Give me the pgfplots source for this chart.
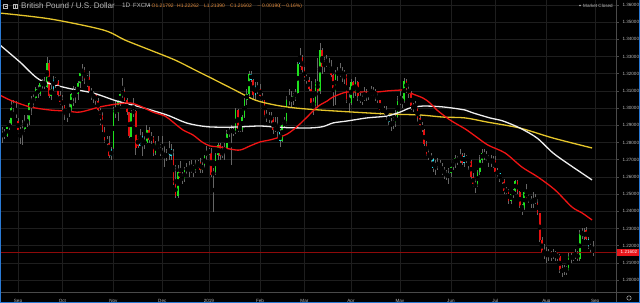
\documentclass[border=0pt]{standalone}
\usepackage{fontspec}
\setmainfont{Liberation Sans}
\usepackage{pgfplots}
\usepackage{pgfplotstable}
\pgfplotsset{compat=1.18}
\definecolor{gridc}{HTML}{1E1E1E}
\definecolor{sepc}{HTML}{4A4A4A}
\definecolor{labelc}{HTML}{B8B8B8}
\definecolor{cgreen}{HTML}{1EE01E}
\definecolor{cred}{HTML}{E41010}
\definecolor{ccyan}{HTML}{20DCEC}
\definecolor{wick}{HTML}{666666}
\definecolor{mared}{HTML}{F01414}
\definecolor{mawhite}{HTML}{EEEEEE}
\definecolor{mayellow}{HTML}{E5C52B}
\definecolor{priceline}{HTML}{8E0A0A}
\definecolor{tagred}{HTML}{E8161B}
\definecolor{orangec}{HTML}{E08A3C}
\definecolor{borderc}{HTML}{2A7AD5}
\pgfplotstableread{
i o h l c k
-8 1.2910 1.2930 1.2810 1.2835 1
-7 1.2835 1.2890 1.2800 1.2850 2
-6 1.2850 1.2880 1.2820 1.2840 2
-5 1.2840 1.2900 1.2830 1.2890 0
-4 1.2890 1.2930 1.2870 1.2910 0
-3 1.2910 1.3050 1.2900 1.3000 0
-2 1.3000 1.3045 1.2980 1.3030 0
-1 1.2985 1.3040 1.2940 1.2965 2
0 1.2925 1.2940 1.2860 1.2870 1
1 1.2870 1.2890 1.2790 1.2860 2
2 1.2860 1.2930 1.2785 1.2880 2
3 1.2880 1.2960 1.2860 1.2920 0
4 1.2920 1.2960 1.2890 1.2925 2
5 1.2925 1.3040 1.2900 1.3030 0
6 1.3030 1.3070 1.2960 1.3045 2
7 1.3045 1.3080 1.3000 1.3060 2
8 1.3060 1.3120 1.3040 1.3110 0
9 1.3110 1.3135 1.3060 1.3080 2
10 1.3080 1.3150 1.3070 1.3145 0
11 1.3145 1.3170 1.3110 1.3150 2
12 1.3150 1.3180 1.3110 1.3125 2
13 1.3125 1.3298 1.3120 1.3265 0
14 1.3265 1.3280 1.3060 1.3070 1
15 1.3070 1.3145 1.3050 1.3110 0
16 1.3110 1.3185 1.3100 1.3170 2
17 1.3170 1.3180 1.3120 1.3160 2
18 1.3160 1.3165 1.3060 1.3075 1
19 1.3075 1.3100 1.3020 1.3035 1
20 1.3045 1.3075 1.2990 1.3010 1
21 1.3010 1.3020 1.2930 1.2960 1
22 1.2960 1.2990 1.2920 1.2975 2
23 1.2975 1.3040 1.2950 1.2990 2
24 1.2990 1.3090 1.2980 1.3080 0
25 1.3080 1.3130 1.3010 1.3110 0
26 1.3110 1.3120 1.3030 1.3080 2
27 1.3080 1.3160 1.3050 1.3145 0
28 1.3145 1.3215 1.3120 1.3205 0
29 1.3205 1.3257 1.3160 1.3230 0
30 1.3220 1.3240 1.3140 1.3170 1
31 1.3170 1.3195 1.3120 1.3180 2
32 1.3180 1.3215 1.3090 1.3100 1
33 1.3100 1.3120 1.3050 1.3080 2
34 1.3080 1.3100 1.3030 1.3065 2
35 1.3080 1.3090 1.3020 1.3040 1
36 1.3040 1.3060 1.2980 1.2990 1
37 1.2990 1.3000 1.2900 1.2960 1
38 1.2960 1.2980 1.2860 1.2875 1
39 1.2875 1.2890 1.2800 1.2815 1
40 1.2815 1.2840 1.2770 1.2800 2
41 1.2800 1.2840 1.2710 1.2720 1
42 1.2720 1.2775 1.2696 1.2760 2
43 1.2770 1.3005 1.2760 1.2990 0
44 1.2990 1.3045 1.2940 1.2970 2
45 1.2970 1.3050 1.2925 1.3040 0
46 1.3040 1.3100 1.3010 1.3080 0
47 1.3080 1.3175 1.3060 1.3100 2
48 1.3100 1.3120 1.3040 1.3050 1
49 1.3050 1.3060 1.2960 1.2975 1
50 1.2975 1.2980 1.2825 1.2835 1
51 1.2835 1.2990 1.2830 1.2970 0
52 1.2970 1.3060 1.2950 1.2985 2
53 1.2985 1.2990 1.2725 1.2770 1
54 1.2820 1.2840 1.2770 1.2780 1
55 1.2780 1.2880 1.2780 1.2840 2
56 1.2840 1.2860 1.2720 1.2790 2
57 1.2790 1.2840 1.2760 1.2810 2
58 1.2800 1.2900 1.2790 1.2870 0
59 1.2870 1.2890 1.2800 1.2815 1
60 1.2815 1.2860 1.2790 1.2830 2
61 1.2830 1.2840 1.2720 1.2740 1
62 1.2740 1.2810 1.2725 1.2790 0
63 1.2790 1.2840 1.2750 1.2770 2
64 1.2770 1.2790 1.2720 1.2745 1
65 1.2745 1.2840 1.2720 1.2735 2
66 1.2735 1.2780 1.2660 1.2720 2
67 1.2720 1.2760 1.2690 1.2730 2
68 1.2730 1.2810 1.2700 1.2765 2
69 1.2765 1.2790 1.2700 1.2720 2
70 1.2720 1.2760 1.2550 1.2560 1
71 1.2560 1.2670 1.2477 1.2490 1
72 1.2490 1.2670 1.2480 1.2630 0
73 1.2630 1.2690 1.2590 1.2595 1
74 1.2595 1.2630 1.2560 1.2585 2
75 1.2585 1.2655 1.2570 1.2640 0
76 1.2640 1.2680 1.2610 1.2650 2
77 1.2650 1.2690 1.2600 1.2635 2
78 1.2635 1.2700 1.2620 1.2660 0
79 1.2660 1.2670 1.2600 1.2640 2
80 1.2640 1.2700 1.2620 1.2675 0
81 1.2675 1.2700 1.2650 1.2685 2
82 1.2685 1.2710 1.2620 1.2640 1
83 1.2640 1.2690 1.2620 1.2670 0
84 1.2670 1.2730 1.2650 1.2720 0
85 1.2720 1.2780 1.2700 1.2750 0
86 1.2750 1.2770 1.2730 1.2740 2
87 1.2740 1.2770 1.2600 1.2610 1
88 1.2610 1.2650 1.2396 1.2630 2
89 1.2630 1.2740 1.2610 1.2730 0
90 1.2730 1.2800 1.2700 1.2785 0
91 1.2785 1.2800 1.2700 1.2720 1
92 1.2720 1.2780 1.2710 1.2750 2
93 1.2750 1.2800 1.2700 1.2770 2
94 1.2770 1.2870 1.2760 1.2850 0
95 1.2850 1.2890 1.2830 1.2870 2
96 1.2870 1.2900 1.2670 1.2865 2
97 1.2865 1.2890 1.2840 1.2860 2
98 1.2860 1.3000 1.2850 1.2990 0
99 1.2990 1.2995 1.2860 1.2880 1
100 1.2880 1.2920 1.2860 1.2875 2
101 1.2875 1.2960 1.2860 1.2950 0
102 1.2950 1.3060 1.2940 1.3050 0
103 1.3050 1.3110 1.3020 1.3080 0
104 1.3080 1.3218 1.3070 1.3200 0
105 1.3200 1.3215 1.3150 1.3165 2
106 1.3165 1.3170 1.3050 1.3075 1
107 1.3075 1.3150 1.3050 1.3130 2
108 1.3130 1.3150 1.3080 1.3110 1
109 1.3110 1.3140 1.3050 1.3070 1
110 1.3070 1.3090 1.3030 1.3045 2
111 1.3045 1.3050 1.2950 1.2960 1
112 1.2960 1.2990 1.2920 1.2945 2
113 1.2945 1.2980 1.2915 1.2950 2
114 1.2950 1.2980 1.2900 1.2940 2
115 1.2940 1.2950 1.2850 1.2870 1
116 1.2870 1.2950 1.2860 1.2890 2
117 1.2890 1.2950 1.2830 1.2860 2
118 1.2860 1.2880 1.2772 1.2810 2
119 1.2810 1.2920 1.2800 1.2900 0
120 1.2900 1.2950 1.2890 1.2920 2
121 1.2920 1.3070 1.2910 1.3050 0
122 1.3050 1.3110 1.3020 1.3060 2
123 1.3060 1.3100 1.3000 1.3040 2
124 1.3040 1.3090 1.3020 1.3070 0
125 1.3070 1.3110 1.3040 1.3090 2
126 1.3090 1.3270 1.3080 1.3255 0
127 1.3255 1.3350 1.3240 1.3300 2
128 1.3300 1.3310 1.3200 1.3220 1
129 1.3220 1.3240 1.3160 1.3180 1
130 1.3180 1.3200 1.3140 1.3165 2
131 1.3165 1.3180 1.3100 1.3110 1
132 1.3110 1.3160 1.3010 1.3030 1
133 1.3030 1.3060 1.2960 1.3020 2
134 1.3020 1.3170 1.2990 1.3150 0
135 1.3150 1.3290 1.3000 1.3100 1
136 1.3100 1.3380 1.3080 1.3340 0
137 1.3340 1.3350 1.3200 1.3240 1
138 1.3240 1.3300 1.3210 1.3260 2
139 1.3260 1.3310 1.3240 1.3265 2
140 1.3265 1.3290 1.3210 1.3240 2
141 1.3240 1.3280 1.3180 1.3190 1
142 1.3190 1.3200 1.3010 1.3100 1
143 1.3100 1.3220 1.3020 1.3200 0
144 1.3200 1.3240 1.3160 1.3210 2
145 1.3210 1.3260 1.3180 1.3200 2
146 1.3200 1.3240 1.3150 1.3210 2
147 1.3210 1.3220 1.3140 1.3190 2
148 1.3190 1.3200 1.3030 1.3050 1
149 1.3050 1.3120 1.2980 1.3030 2
150 1.3030 1.3170 1.3020 1.3150 0
151 1.3150 1.3160 1.3060 1.3090 1
152 1.3090 1.3180 1.3070 1.3150 0
153 1.3150 1.3160 1.3040 1.3070 1
154 1.3070 1.3090 1.3030 1.3040 2
155 1.3040 1.3080 1.3020 1.3060 2
156 1.3060 1.3120 1.3040 1.3060 2
157 1.3060 1.3110 1.3040 1.3090 2
158 1.3090 1.3100 1.3050 1.3080 2
159 1.3080 1.3130 1.3070 1.3085 2
160 1.3085 1.3120 1.3070 1.3100 2
161 1.3100 1.3110 1.3040 1.3070 1
162 1.3070 1.3090 1.3030 1.3045 1
163 1.3045 1.3050 1.2960 1.2990 1
164 1.2990 1.3000 1.2970 1.2985 2
165 1.2985 1.3010 1.2960 1.2990 2
166 1.2990 1.3010 1.2930 1.2960 2
167 1.2960 1.2970 1.2900 1.2920 2
168 1.2920 1.2940 1.2866 1.2900 2
169 1.2900 1.2950 1.2880 1.2920 0
170 1.2920 1.2990 1.2890 1.2950 0
171 1.2950 1.3070 1.2940 1.3040 0
172 1.3040 1.3100 1.3020 1.3050 2
173 1.3050 1.3070 1.3000 1.3040 2
174 1.3040 1.3176 1.3030 1.3160 0
175 1.3160 1.3170 1.3090 1.3110 1
176 1.3110 1.3140 1.3060 1.3085 1
177 1.3085 1.3100 1.2990 1.3010 1
178 1.3010 1.3030 1.2980 1.3005 2
179 1.3005 1.3040 1.2990 1.3000 2
180 1.3000 1.3010 1.2920 1.2940 1
181 1.2940 1.2960 1.2880 1.2900 1
182 1.2900 1.2920 1.2860 1.2870 1
183 1.2870 1.2880 1.2780 1.2790 1
184 1.2790 1.2810 1.2720 1.2725 1
185 1.2725 1.2760 1.2700 1.2720 2
186 1.2720 1.2740 1.2680 1.2705 2
187 1.2705 1.2710 1.2630 1.2650 2
188 1.2670 1.2700 1.2610 1.2660 2
189 1.2670 1.2710 1.2640 1.2680 2
190 1.2680 1.2700 1.2640 1.2660 2
191 1.2660 1.2680 1.2610 1.2640 2
192 1.2640 1.2660 1.2590 1.2620 2
193 1.2620 1.2640 1.2580 1.2600 2
194 1.2600 1.2650 1.2560 1.2620 2
195 1.2620 1.2680 1.2600 1.2660 0
196 1.2660 1.2700 1.2640 1.2680 2
197 1.2680 1.2730 1.2650 1.2710 0
198 1.2710 1.2720 1.2670 1.2690 2
199 1.2690 1.2760 1.2680 1.2730 0
200 1.2730 1.2740 1.2670 1.2680 1
201 1.2680 1.2740 1.2660 1.2720 2
202 1.2720 1.2730 1.2680 1.2700 2
203 1.2700 1.2710 1.2640 1.2690 2
204 1.2690 1.2700 1.2590 1.2600 1
205 1.2600 1.2620 1.2540 1.2560 1
206 1.2560 1.2590 1.2506 1.2550 2
207 1.2550 1.2640 1.2540 1.2630 0
208 1.2630 1.2730 1.2610 1.2700 0
209 1.2700 1.2760 1.2680 1.2740 0
210 1.2740 1.2760 1.2700 1.2720 1
211 1.2720 1.2750 1.2690 1.2710 2
212 1.2710 1.2730 1.2660 1.2700 2
213 1.2700 1.2730 1.2660 1.2690 2
214 1.2690 1.2720 1.2650 1.2700 2
215 1.2700 1.2720 1.2620 1.2630 1
216 1.2630 1.2650 1.2600 1.2620 2
217 1.2620 1.2630 1.2570 1.2590 2
218 1.2590 1.2600 1.2560 1.2580 2
219 1.2580 1.2590 1.2500 1.2520 1
220 1.2520 1.2540 1.2500 1.2515 2
221 1.2515 1.2530 1.2440 1.2460 1
222 1.2460 1.2520 1.2440 1.2500 0
223 1.2500 1.2530 1.2480 1.2520 0
224 1.2520 1.2580 1.2510 1.2575 0
225 1.2575 1.2580 1.2500 1.2510 1
226 1.2510 1.2520 1.2420 1.2430 1
227 1.2430 1.2440 1.2380 1.2420 2
228 1.2420 1.2520 1.2410 1.2510 0
229 1.2510 1.2560 1.2470 1.2480 1
230 1.2480 1.2500 1.2450 1.2470 2
231 1.2470 1.2490 1.2420 1.2440 2
232 1.2440 1.2510 1.2420 1.2470 2
233 1.2470 1.2500 1.2440 1.2450 2
234 1.2450 1.2470 1.2380 1.2390 1
235 1.2390 1.2390 1.2220 1.2230 1
236 1.2230 1.2250 1.2150 1.2160 1
237 1.2160 1.2210 1.2120 1.2150 2
238 1.2150 1.2190 1.2100 1.2160 2
239 1.2160 1.2180 1.2110 1.2150 2
240 1.2150 1.2170 1.2110 1.2140 2
241 1.2140 1.2180 1.2120 1.2160 2
242 1.2160 1.2170 1.2110 1.2140 2
243 1.2140 1.2160 1.2110 1.2140 2
244 1.2140 1.2150 1.2040 1.2060 1
245 1.2060 1.2090 1.2017 1.2050 2
246 1.2050 1.2090 1.2030 1.2070 2
247 1.2070 1.2080 1.2030 1.2060 2
248 1.2060 1.2160 1.2050 1.2140 0
249 1.2140 1.2160 1.2100 1.2130 2
250 1.2130 1.2150 1.2110 1.2140 2
251 1.2140 1.2180 1.2120 1.2150 2
252 1.2150 1.2170 1.2110 1.2125 1
253 1.2125 1.2290 1.2110 1.2270 0
254 1.2270 1.2300 1.2240 1.2280 2
255 1.2280 1.2300 1.2230 1.2250 2
256 1.2290 1.2308 1.2230 1.2240 1
257 1.2240 1.2250 1.2180 1.2200 2
258 1.2200 1.2220 1.2160 1.2180 2
259 1.2179 1.2226 1.2139 1.2160 2
}\candles
\begin{document}
\begin{tikzpicture}
\useasboundingbox (0,-11bp) rectangle (640bp,292bp);
\fill[black] (0,-11bp) rectangle (640bp,292bp);
\begin{axis}[
  at={(0,0)}, anchor=south west, scale only axis,
  width=616bp, height=292bp,
  xmin=-8.108, xmax=269.37, ymin=1.19302, ymax=1.36291,
  axis line style={draw=none},
  /pgf/number format/assume math mode=true,
  xtick={0,20,43,65,86,109,129,150,172,195,215,238,260},
  xticklabels={Sep,Oct,Nov,Dec,2019,Feb,Mar,Apr,May,Jun,Jul,Aug,Sep},
  ytick={1.20,1.21,1.22,1.23,1.24,1.25,1.26,1.27,1.28,1.29,1.30,1.31,1.32,1.33,1.34,1.35,1.36},
  yticklabel={\pgfmathprintnumber[fixed,fixed zerofill,precision=5]{\tick}},
  yticklabel pos=right, ytick pos=right,
  tick align=outside, major tick length=2.5bp,
  xtick style={draw=none},
  ytick style={draw=sepc, line width=0.5bp},
  grid=major, major grid style={draw=gridc, line width=0.6bp},
  tick label style={font=\fontsize{4.6}{5}\selectfont, text=labelc},
  xticklabel style={yshift=-1.2bp},
  yticklabel style={xshift=0.5bp},
]
% wicks
\addplot[only marks, mark=none, forget plot,
  error bars/.cd, y dir=both, y explicit, error mark=none,
  error bar style={draw=wick, line width=0.55bp}]
  table[x=i, y expr={(\thisrow{h}+\thisrow{l})/2}, y error expr={(\thisrow{h}-\thisrow{l})/2}] {\candles};
% bodies
\addplot[only marks, mark=none, forget plot,
  restrict expr to domain={\thisrow{k}}{-0.5:0.5},
  error bars/.cd, y dir=both, y explicit, error mark=none,
  error bar style={draw=cgreen, line width=1.7bp}]
  table[x=i, y expr={(\thisrow{o}+\thisrow{c})/2}, y error expr={max(abs(\thisrow{c}-\thisrow{o})/2,0.00015)}] {\candles};
\addplot[only marks, mark=none, forget plot,
  restrict expr to domain={\thisrow{k}}{0.5:1.5},
  error bars/.cd, y dir=both, y explicit, error mark=none,
  error bar style={draw=cred, line width=1.7bp}]
  table[x=i, y expr={(\thisrow{o}+\thisrow{c})/2}, y error expr={max(abs(\thisrow{c}-\thisrow{o})/2,0.00015)}] {\candles};
\addplot[only marks, mark=none, forget plot,
  restrict expr to domain={\thisrow{k}}{1.5:2.5},
  error bars/.cd, y dir=both, y explicit, error mark=none,
  error bar style={draw=ccyan, line width=1.7bp}]
  table[x=i, y expr={(\thisrow{o}+\thisrow{c})/2}, y error expr={max(abs(\thisrow{c}-\thisrow{o})/2,0.00015)}] {\candles};
% current price line
\addplot[priceline, line width=0.6bp, forget plot] coordinates {(-8.108,1.21602) (269.37,1.21602)};
% moving averages
\addplot[mayellow, line width=1.3bp, smooth, forget plot] coordinates {
(-8.1,1.3553) (14.4,1.3519) (38.3,1.3455) (48.2,1.3396) (59.5,1.3338) (70.7,1.3280) (79.7,1.3222) (88.7,1.3164) (97.7,1.3105) (106.8,1.3047) (115.8,1.3018) (124.8,1.3001) (136.0,1.2989) (150.9,1.2977) (166.2,1.2966) (181.1,1.2960) (191.4,1.2948) (201.4,1.2943) (211.3,1.2919) (226.1,1.2884) (241.0,1.2826) (258.6,1.2768)};
\addplot[mawhite, line width=1.3bp, smooth, forget plot] coordinates {
(-8.1,1.3367) (0.9,1.3268) (9.9,1.3164) (22.1,1.3117) (33.8,1.3088) (44.6,1.3041) (55.0,1.3007) (67.1,1.2960) (76.1,1.2913) (85.1,1.2892) (95,1.2889) (103,1.2893) (109,1.2896) (115,1.2891) (122,1.2886) (132,1.2885) (137.5,1.2893) (142,1.2914) (148.2,1.2925) (157.2,1.2943) (166.2,1.2954) (172.1,1.2977) (176.6,1.3001) (182.4,1.3012) (191.4,1.3007) (201.4,1.2989) (205.0,1.2972) (212.6,1.2943) (218.5,1.2925) (226.1,1.2884) (233.8,1.2826) (241.0,1.2739) (248.6,1.2669) (258.6,1.2582)};
\addplot[mared, line width=1.3bp, smooth, forget plot] coordinates {
(-8.1,1.3076) (-3.6,1.3047) (5.4,1.3007) (14.4,1.2989) (22.1,1.2983) (27.9,1.2977) (36.9,1.3007) (44.6,1.3024) (50.5,1.3030) (55.0,1.3012) (60.8,1.2977) (66.2,1.2954) (69.8,1.2919) (74.3,1.2873) (78.8,1.2844) (82.9,1.2803) (86.5,1.2780) (91.0,1.2774) (95.5,1.2762) (100,1.2756) (104.5,1.2780) (109.0,1.2803) (113.5,1.2815) (118.0,1.2832) (121.2,1.2849) (123.9,1.2873) (127.0,1.2908) (130.2,1.2948) (133.8,1.2995) (136.0,1.3018) (139.2,1.3041) (141.9,1.3065) (146.4,1.3088) (148.2,1.3094) (154.1,1.3094) (161.7,1.3094) (166.2,1.3100) (172.1,1.3105) (174.3,1.3105) (177.9,1.3082) (182.4,1.3059) (185.6,1.3030) (188.7,1.2989) (194.6,1.2931) (201.4,1.2879) (205.9,1.2838) (211.7,1.2785) (219.4,1.2739) (227.0,1.2657) (234.2,1.2599) (241.9,1.2524) (249.5,1.2425) (254.1,1.2390) (258.6,1.2349)};
\end{axis}
% scale separators
\draw[sepc, line width=0.6bp] (616bp,-11bp) -- (616bp,292bp);
\draw[sepc, line width=0.6bp] (0,0) -- (640bp,0);
% price tag
\fill[tagred] (616.5bp,36.2bp) rectangle (640bp,43.2bp);
\node[anchor=center, inner sep=0, text=white, font=\fontsize{4.6}{5}\selectfont] at (629bp,39.7bp) {1.21602};
% header
\draw[labelc, line width=0.4bp] (3.5bp,284bp) rectangle (7.5bp,288bp);
\draw[labelc, line width=0.4bp] (4.5bp,286bp) -- (6.5bp,286bp);
\draw[labelc, line width=0.4bp] (13.5bp,284bp) rectangle (17.5bp,288bp);
\draw[labelc, line width=0.4bp] (15.5bp,284bp) -- (15.5bp,288bp);
\node[anchor=west, inner sep=0, text=labelc, font=\fontsize{8.1}{9}\selectfont] at (21bp,286.2bp) {British Pound / U.S. Dollar};
\node[anchor=west, inner sep=0, text=labelc, font=\fontsize{6.4}{7}\selectfont] at (122bp,286.2bp) {1D};
\node[anchor=west, inner sep=0, text=labelc, font=\fontsize{6}{7}\selectfont] at (133bp,286.2bp) {FXCM};
\fill[labelc] (148.2bp,287bp) -- (150.2bp,287bp) -- (149.2bp,285.6bp) -- cycle;
\begin{scope}[every node/.style={anchor=west, inner sep=0, text=orangec, font=\fontsize{5}{6}\selectfont}]
\node at (151.5bp,286.2bp) {O1.21792};
\node at (177bp,286.2bp) {H1.22262};
\node at (204bp,286.2bp) {L1.21390};
\node at (230bp,286.2bp) {C1.21602};
\node at (256.5bp,286.2bp) {$-$0.00190};
\node at (279bp,286.2bp) {($-$0.16\%)};
\end{scope}
\fill[labelc] (580bp,286.5bp) circle (0.9bp);
\node[anchor=west, inner sep=0, text=labelc, font=\fontsize{4.6}{5}\selectfont] at (583bp,286.5bp) {Market Closed};
\draw[labelc, line width=0.5bp] (629bp,-6bp) circle (2.2bp);
% window border
\draw[borderc, line width=1bp] (0.5bp,292bp) -- (0.5bp,-10.5bp) -- (639.5bp,-10.5bp) -- (639.5bp,292bp);
\end{tikzpicture}
\end{document}
